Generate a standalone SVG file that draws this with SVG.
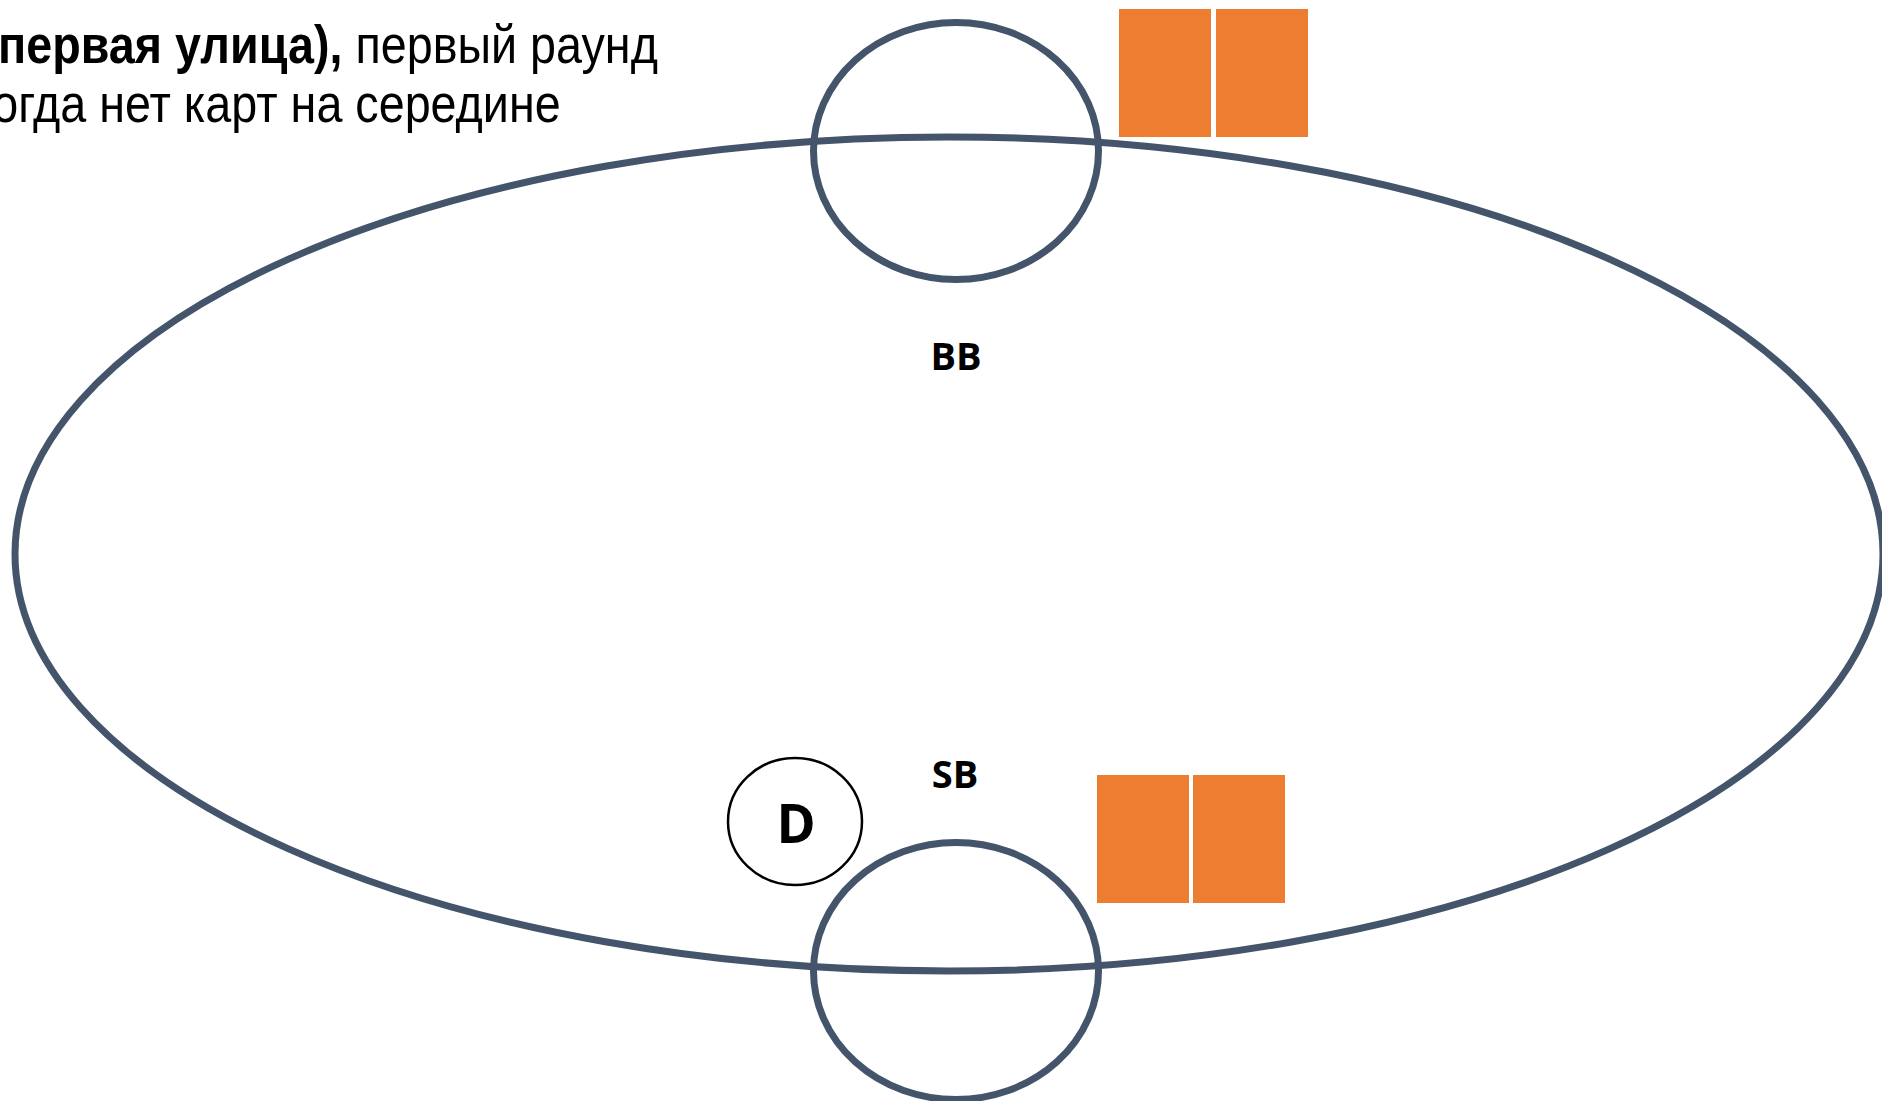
<svg xmlns="http://www.w3.org/2000/svg" width="1882" height="1101" viewBox="0 0 1882 1101">
<style>
.ring{fill:none;stroke:#44546A;stroke-width:7}
.card{fill:#ED7D31}
.lbl{font-family:"Open Sans","Noto Sans","DejaVu Sans",sans-serif;font-weight:bold;fill:#000;text-anchor:middle}
.title{font-family:"Liberation Sans",Arial,sans-serif;font-size:54px;fill:#000}
</style>
<rect width="1882" height="1101" fill="#fff"/>
<g id="title" transform="scale(0.865,1)">
<text class="title" x="-2.3" y="63"><tspan font-weight="bold">первая улица),</tspan> первый раунд</text>
<text class="title" x="-9" y="122">огда нет карт на середине</text>
</g>
<g id="table">
<ellipse class="ring" cx="949" cy="554" rx="934" ry="417"/>
</g>
<g id="seat-bb">
<ellipse class="ring" cx="956" cy="151" rx="142.5" ry="128.5"/>
<text class="lbl" x="956" y="370" font-size="38">BB</text>
</g>
<g id="cards-bb">
<rect class="card" x="1119" y="9" width="92" height="128"/>
<rect class="card" x="1216" y="9" width="92" height="128"/>
</g>
<g id="seat-sb">
<ellipse class="ring" cx="956" cy="971" rx="142.5" ry="128.5"/>
<text class="lbl" x="955" y="788" font-size="38">SB</text>
</g>
<g id="cards-sb">
<rect class="card" x="1097" y="775" width="92" height="128"/>
<rect class="card" x="1193" y="775" width="92" height="128"/>
</g>
<g id="dealer">
<ellipse cx="795" cy="821.5" rx="67" ry="63.5" fill="#fff" stroke="#000" stroke-width="2.5"/>
<text class="lbl" x="796" y="843" font-size="53">D</text>
</g>
<g id="connectors"></g>
</svg>
